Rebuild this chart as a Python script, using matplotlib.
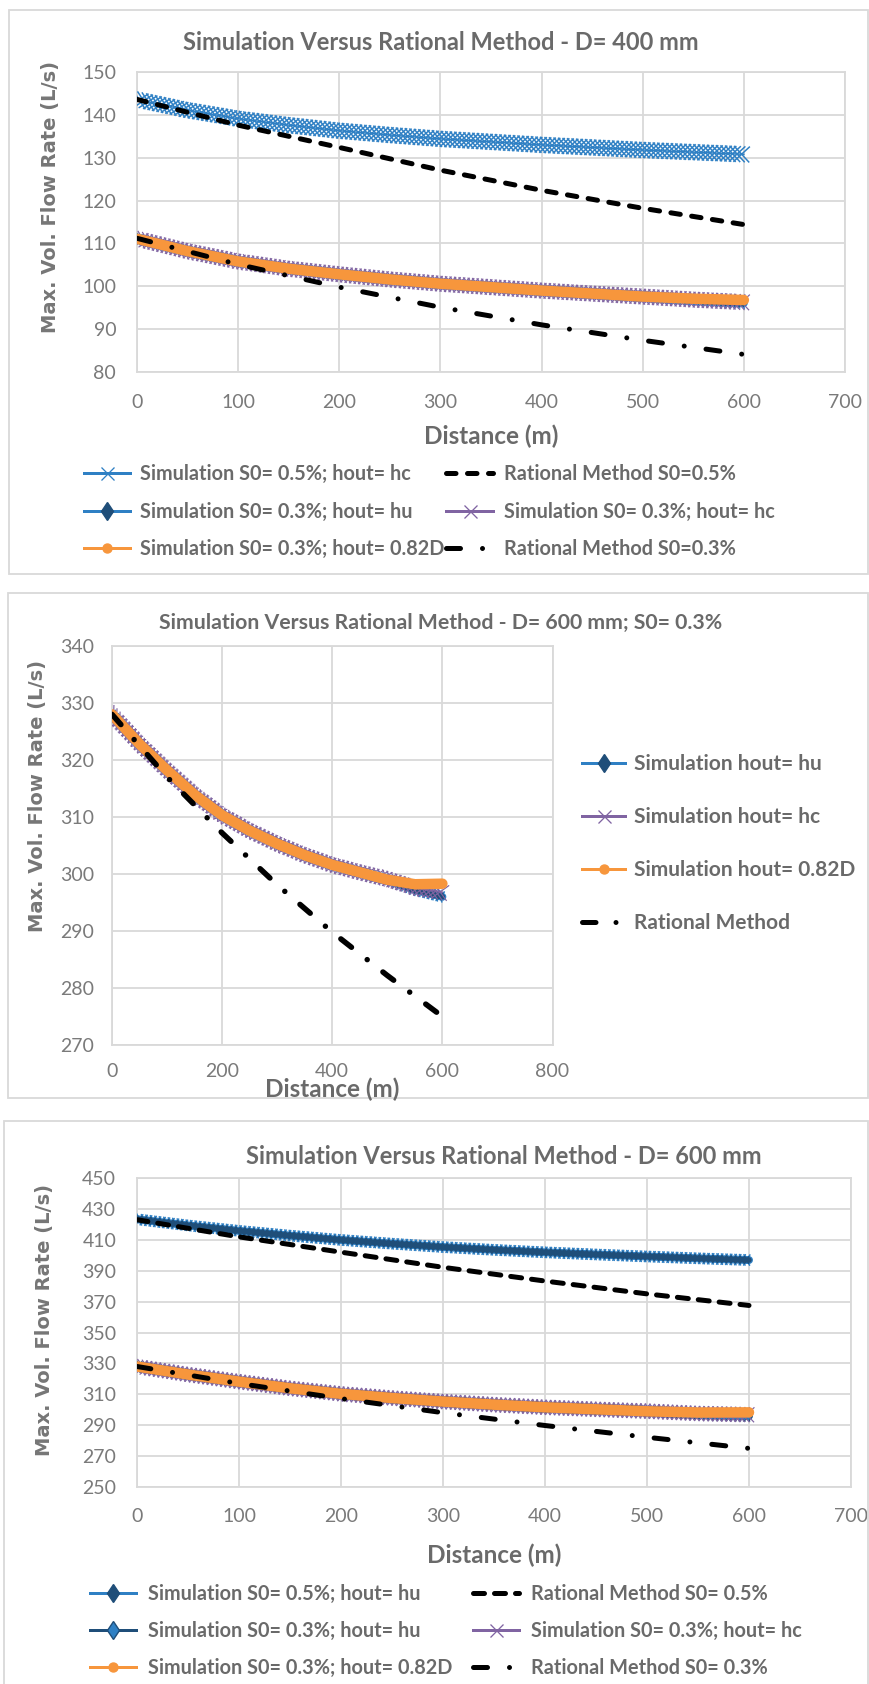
import matplotlib
matplotlib.use("Agg")
import matplotlib.pyplot as plt
import matplotlib.patheffects as pe
from matplotlib.lines import Line2D
from matplotlib.patches import Rectangle

W, H = 869, 1684
PT = 72 / 100  # points per pixel at dpi 100

# distances along the pipe (m)
dist_sim = [0, 50, 100, 150, 200, 250, 300, 350, 400, 450, 500, 550, 600]
dist_rat = [0, 100, 200, 300, 400, 500, 600]

# D = 400 mm, max. flow rate (L/s)
q400_s05_hc = [143.6, 141.1, 139.1, 137.6, 136.3, 135.3, 134.4, 133.7, 133.0, 132.4, 131.8, 131.3, 130.8]
q400_s03_hu = [111.1, 108.2, 105.8, 104.1, 102.8, 101.6, 100.6, 99.8, 99.0, 98.3, 97.6, 96.8, 96.1]
q400_s03_hc = [111.1, 108.2, 105.8, 104.1, 102.8, 101.6, 100.6, 99.8, 99.0, 98.3, 97.6, 96.9, 96.3]
q400_s03_082 = [111.1, 108.2, 105.8, 104.1, 102.8, 101.6, 100.6, 99.8, 99.0, 98.3, 97.6, 97.1, 96.8]
q400_rat05 = [143.6, 137.6, 132.4, 127.1, 122.4, 118.2, 114.4]
q400_rat03 = [111.2, 105.1, 99.8, 95.1, 91.0, 87.4, 84.1]

# D = 600 mm, max. flow rate (L/s)
q600_s05_hu = [423.3, 419.3, 415.8, 412.7, 409.9, 407.5, 405.3, 403.5, 401.9, 400.5, 399.2, 398.0, 396.9]
q600_s03_hu = [328.0, 322.8, 318.2, 313.9, 310.3, 307.6, 305.3, 303.3, 301.6, 300.3, 299.0, 297.2, 296.0]
q600_s03_hc = [328.0, 322.8, 318.2, 313.9, 310.3, 307.6, 305.3, 303.3, 301.6, 300.3, 299.1, 297.6, 296.8]
q600_s03_082 = [328.0, 322.8, 318.2, 313.9, 310.3, 307.6, 305.3, 303.3, 301.6, 300.3, 299.0, 298.2, 298.3]
q600_rat05 = [423.0, 411.9, 402.0, 392.2, 383.3, 375.0, 367.5]
q600_rat03 = [328.0, 317.0, 307.2, 298.1, 289.8, 282.2, 275.0]

BLUE = "#2F80C4"
NAVY = "#1F4E79"
PURPLE = "#8064A2"
ORANGE = "#F7963C"
GRID = "#D9D9D9"
TEXT = "#6A6A6A"
FONT = "Lato"

plt.rcParams["font.family"] = [FONT, "DejaVu Sans"]
plt.rcParams["lines.scale_dashes"] = False

fig = plt.figure(figsize=(W / 100, H / 100), dpi=100)
fig.patch.set_facecolor("white")


def px_axes(left, top, right, bottom):
    return fig.add_axes([left / W, 1 - bottom / H, (right - left) / W, (bottom - top) / H])


def frame(x0, y0, x1, y1):
    fig.add_artist(Rectangle((x0 / W, 1 - y1 / H), (x1 - x0) / W, (y1 - y0) / H,
                             transform=fig.transFigure, fill=False,
                             edgecolor=GRID, linewidth=1.3))


def ftext(x, y, s, color=TEXT, **kw):
    fig.text(x / W, 1 - y / H, s, ha="center", va="center", color=color, **kw)


def ticks(color, spacing_px, arm_px, angles, lw_px=1.0):
    sp = spacing_px * PT
    return [pe.TickedStroke(spacing=sp, angle=a, length=arm_px / spacing_px,
                            linewidth=lw_px * PT, foreground=color)
            for a in angles]


XANG = (45, 135, -45, -135)
DANG = (60, 120, -60, -120)


def sim_cross(ax, d, q, color, arm_px=10.5, spacing_px=4.5, lw_px=1.5):
    # dense "x" markers rendered as a ticked stroke along the line
    ax.plot(d, q, color=color, lw=1.5 * PT,
            path_effects=[pe.Normal()] + ticks(color, spacing_px, arm_px, XANG, lw_px),
            zorder=3)


def sim_diamond(ax, d, q, edge, core):
    # dense diamond markers: dark core with a jagged lighter rim
    ax.plot(d, q, color=core, lw=5.5 * PT, solid_capstyle="round",
            path_effects=[pe.Stroke(linewidth=8 * PT, foreground=edge)]
            + ticks(edge, 4.5, 6.0, DANG, 1.6)
            + [pe.Normal()] + ticks(core, 4.5, 4.0, DANG, 1.3),
            zorder=3)


def sim_circle(ax, d, q):
    ax.plot(d, q, color=ORANGE, lw=10.5 * PT, solid_capstyle="round", zorder=3)


def rational(ax, d, q, dashes, lw_px=5.0):
    ax.plot(d, q, color="black", lw=lw_px * PT, dashes=dashes,
            dash_capstyle="round", zorder=4)


DASH = (9.5 * PT, 11.5 * PT)
DASH3 = (11 * PT, 10 * PT)
DASHDOT = (14 * PT, 22 * PT, 0.01, 22 * PT)
DASHDOT2 = (13.5 * PT, 20 * PT, 0.01, 20 * PT)


def style_axes(ax, xlim, xstep, ylim, ystep, xpad, ypad):
    ax.set_xlim(*xlim)
    ax.set_ylim(*ylim)
    ax.set_xticks(range(xlim[0], xlim[1] + 1, xstep))
    ax.set_yticks(range(ylim[0], ylim[1] + 1, ystep))
    ax.grid(True, color=GRID, lw=1.3)
    ax.set_axisbelow(True)
    for sp in ax.spines.values():
        sp.set_color(GRID)
        sp.set_linewidth(1.3)
    ax.tick_params(length=0, labelsize=14, labelcolor="#7A7A7A")
    ax.tick_params(axis="x", pad=xpad)
    ax.tick_params(axis="y", pad=ypad)


def h_cross(color):
    return Line2D([], [], color=color, lw=3 * PT, marker="x", ms=13 * PT, mew=1.3 * PT)


def h_diamond(line, fill):
    return Line2D([], [], color=line, lw=3 * PT, marker="d", ms=13 * PT, mfc=fill, mec=NAVY, mew=1.0)


def h_circle():
    return Line2D([], [], color=ORANGE, lw=3 * PT, marker="o", ms=9 * PT, mfc=ORANGE, mec=ORANGE)


def h_rational(dashes):
    return Line2D([], [], color="black", lw=5 * PT, dashes=dashes, dash_capstyle="round")


def legend_col(handles, labels, x, rows, handle_px, gap_px, fs=14.3):
    # one legend per entry so that each row sits at its own pixel height
    fpx = fs / PT
    for h, lab, y in zip(handles, labels, rows):
        leg = fig.legend([h], [lab], loc="center left",
                         bbox_to_anchor=(x / W, 1 - y / H), frameon=False,
                         borderpad=0, borderaxespad=0, handlelength=handle_px / fpx,
                         handletextpad=gap_px / fpx, numpoints=1,
                         prop={"family": FONT, "weight": "bold", "size": fs})
        leg.get_texts()[0].set_color(TEXT)


TITLE = dict(fontfamily=FONT, fontweight="bold", fontsize=17)
XLAB = dict(fontfamily=FONT, fontweight="bold", fontsize=17.5)
YLAB = dict(fontfamily="DejaVu Sans", fontweight="bold", fontsize=14, rotation=90,
            color="#767676")

# ---------- D = 400 mm ----------
frame(9, 10, 868, 574)
ax1 = px_axes(137, 72, 845, 372)
sim_cross(ax1, dist_sim, q400_s05_hc, BLUE)
sim_diamond(ax1, dist_sim, q400_s03_hu, BLUE, NAVY)
sim_cross(ax1, dist_sim, q400_s03_hc, PURPLE, arm_px=10.5, lw_px=1.2)
sim_circle(ax1, dist_sim, q400_s03_082)
rational(ax1, dist_rat, q400_rat05, DASH)
rational(ax1, dist_rat, q400_rat03, DASHDOT)
style_axes(ax1, (0, 700), 100, (80, 150), 10, 16, 15)
ftext(441, 42, "Simulation Versus Rational Method - D= 400 mm", **TITLE)
ftext(491, 436, "Distance (m)", **XLAB)
ftext(51, 197, "Max. Vol. Flow Rate (L/s)", **YLAB)
rows1 = [474, 511.5, 549]
legend_col([h_cross(BLUE), h_diamond(BLUE, NAVY), h_circle()],
           ["Simulation S0= 0.5%; hout= hc", "Simulation S0= 0.3%; hout= hu",
            "Simulation S0= 0.3%; hout= 0.82D"], 84, rows1, 46, 10)
legend_col([h_rational(DASH), h_cross(PURPLE), h_rational(DASHDOT)],
           ["Rational Method S0=0.5%", "Simulation S0= 0.3%; hout= hc",
            "Rational Method S0=0.3%"], 446, rows1, 47, 11)

# ---------- D = 600 mm; S0 = 0.3% ----------
frame(8, 593, 868, 1098)
ax2 = px_axes(112, 646, 552.5, 1045)
sim_diamond(ax2, dist_sim, q600_s03_hu, BLUE, NAVY)
sim_cross(ax2, dist_sim, q600_s03_hc, PURPLE, arm_px=10.5, lw_px=1.2)
sim_circle(ax2, dist_sim, q600_s03_082)
rational(ax2, dist_rat, q600_rat03, DASHDOT2, lw_px=5.5)
style_axes(ax2, (0, 800), 200, (270, 340), 10, 13, 13)
ftext(441, 623, "Simulation Versus Rational Method - D= 600 mm; S0= 0.3%", **dict(TITLE, fontsize=15.3))
ftext(332, 1089, "Distance (m)", **XLAB)
ftext(38, 796, "Max. Vol. Flow Rate (L/s)", **YLAB)
legend_col([h_diamond(BLUE, NAVY), h_cross(PURPLE), h_circle(), h_rational(DASHDOT2)],
           ["Simulation hout= hu", "Simulation hout= hc", "Simulation hout= 0.82D",
            "Rational Method"], 582, [764, 817, 870, 923], 43, 9, fs=15)

# ---------- D = 600 mm ----------
frame(4, 1121, 868, 1690)
ax3 = px_axes(137, 1178, 851, 1487)
sim_diamond(ax3, dist_sim, q600_s05_hu, BLUE, NAVY)
sim_diamond(ax3, dist_sim, q600_s03_hu, NAVY, BLUE)
sim_cross(ax3, dist_sim, q600_s03_hc, PURPLE, arm_px=10.0, lw_px=1.2)
sim_circle(ax3, dist_sim, q600_s03_082)
rational(ax3, dist_rat, q600_rat05, DASH3)
rational(ax3, dist_rat, q600_rat03, DASHDOT)
style_axes(ax3, (0, 700), 100, (250, 450), 20, 15, 15)
ftext(504, 1157, "Simulation Versus Rational Method - D= 600 mm", **TITLE)
ftext(494, 1555, "Distance (m)", **XLAB)
ftext(45, 1320, "Max. Vol. Flow Rate (L/s)", **YLAB)
rows3 = [1594, 1631, 1668]
legend_col([h_diamond(BLUE, NAVY), h_diamond(NAVY, BLUE), h_circle()],
           ["Simulation S0= 0.5%; hout= hu", "Simulation S0= 0.3%; hout= hu",
            "Simulation S0= 0.3%; hout= 0.82D"], 90, rows3, 46, 12)
legend_col([h_rational(DASH3), h_cross(PURPLE), h_rational(DASHDOT)],
           ["Rational Method S0= 0.5%", "Simulation S0= 0.3%; hout= hc",
            "Rational Method S0= 0.3%"], 473, rows3, 46, 12)

fig.savefig("out.png", dpi=100, facecolor="white")
